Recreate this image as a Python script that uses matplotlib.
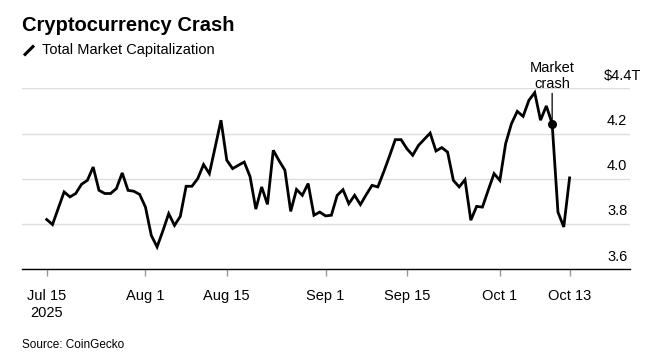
import numpy as np
import pandas as pd
import matplotlib
matplotlib.use("Agg")
import matplotlib.pyplot as plt
from matplotlib.lines import Line2D
from matplotlib.transforms import ScaledTranslation

plt.rcParams['font.family'] = ['Liberation Sans', 'DejaVu Sans']

# total crypto market cap, trillions USD, daily from Jul 15 2025
start = '2025-07-15'
market_cap = [
    3.820, 3.798, 3.870, 3.942, 3.920, 3.935, 3.976, 3.993, 4.052, 3.949,
    3.935, 3.935, 3.957, 4.026, 3.949, 3.945, 3.931, 3.875, 3.750, 3.699,
    3.770, 3.846, 3.794, 3.834, 3.967, 3.967, 4.001, 4.063, 4.023, 4.140,
    4.259, 4.082, 4.045, 4.060, 4.074, 4.010, 3.866, 3.964, 3.887, 4.126,
    4.080, 4.038, 3.856, 3.953, 3.927, 3.979, 3.839, 3.853, 3.836, 3.839,
    3.927, 3.952, 3.890, 3.927, 3.886, 3.930, 3.971, 3.964, 4.030, 4.100,
    4.173, 4.173, 4.133, 4.104, 4.148, 4.175, 4.202, 4.123, 4.138, 4.118,
    3.993, 3.964, 3.996, 3.817, 3.878, 3.875, 3.950, 4.023, 3.993, 4.156,
    4.244, 4.298, 4.276, 4.347, 4.381, 4.259, 4.322, 4.244, 3.853, 3.787,
    4.004,
]
dates = pd.date_range(start, periods=len(market_cap), freq='D')

tick_dates = pd.to_datetime(['2025-07-15', '2025-08-01', '2025-08-15', '2025-09-01',
                             '2025-09-15', '2025-10-01', '2025-10-13'])
tick_labels = ['Jul 15\n2025', 'Aug 1', 'Aug 15', 'Sep 1', 'Sep 15', 'Oct 1', 'Oct 13']
y_ticks = [3.6, 3.8, 4.0, 4.2, 4.4]
y_labels = ['3.6', '3.8', '4.0', '4.2', '$4.4T']
crash_date = pd.Timestamp('2025-10-10')

fig = plt.figure(figsize=(6.5, 3.63), dpi=100)
ax = fig.add_axes([22 / 650, 93.7 / 363, 608 / 650, 181 / 363])

ax.plot(dates, market_cap, color='black', lw=2, solid_joinstyle='miter', zorder=3)

ci = list(dates).index(crash_date)
ax.plot(dates[ci], market_cap[ci], 'o', color='black', ms=5.5, zorder=4)
ax.annotate('Market\ncrash', xy=(dates[ci], market_cap[ci]), xytext=(dates[ci], 4.39),
            ha='center', va='bottom', fontsize=10.5, linespacing=1.12,
            arrowprops=dict(arrowstyle='-', lw=0.9, color='black', shrinkA=0, shrinkB=0),
            annotation_clip=False, zorder=5)

ax.set_xlim(dates[0] - pd.Timedelta(days=4.25), dates[0] + pd.Timedelta(days=100.4))
ax.set_ylim(3.6, 4.4)

ax.set_yticks(y_ticks)
ax.tick_params(axis='y', length=0, labelleft=False)
ax.grid(axis='y', color='#dddddd', lw=1)
ax.set_axisbelow(True)

for v, lab in zip(y_ticks, y_labels):
    dx = 10 / 72 if lab.endswith('T') else 0
    off = ScaledTranslation(dx - 2 / 72, 4 / 72, fig.dpi_scale_trans)
    ax.text(1.0, v, lab, transform=ax.get_yaxis_transform() + off,
            ha='right', va='bottom', fontsize=10.5)

ax.set_xticks(tick_dates)
ax.set_xticklabels(tick_labels, fontsize=10.5, linespacing=1.3)
ax.tick_params(axis='x', length=5, width=1, color='#999999', pad=9)

for s in ['top', 'right', 'left']:
    ax.spines[s].set_visible(False)
ax.spines['bottom'].set_color('black')
ax.spines['bottom'].set_linewidth(1)

fig.text(22 / 650, 1 - 31 / 363, 'Cryptocurrency Crash', fontsize=14.5,
         fontweight='bold', ha='left', va='baseline')
fig.text(42 / 650, 1 - 54 / 363, 'Total Market Capitalization', fontsize=10.5,
         ha='left', va='baseline')
fig.add_artist(Line2D([24 / 650, 34 / 650], [1 - 55.5 / 363, 1 - 45.5 / 363],
                      transform=fig.transFigure, color='black', lw=2.2,
                      solid_capstyle='butt'))
fig.text(22 / 650, 1 - 348 / 363, 'Source: CoinGecko', fontsize=8.5,
         ha='left', va='baseline')

fig.savefig('out.png', dpi=100)
